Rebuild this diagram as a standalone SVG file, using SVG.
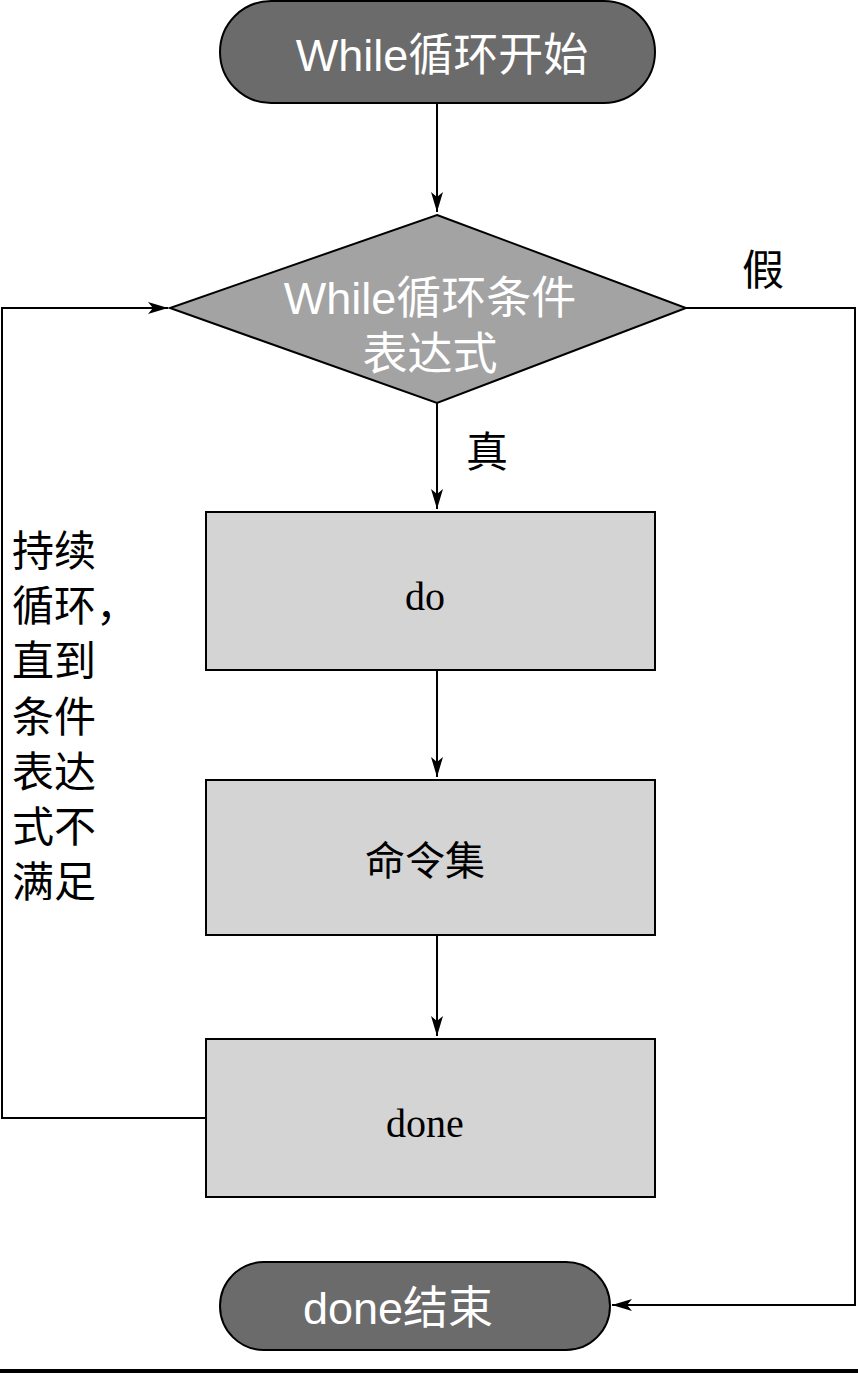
<svg xmlns="http://www.w3.org/2000/svg" width="858" height="1374" viewBox="0 0 858 1374">
<style>
.l{fill:none;stroke:#000;stroke-width:2}
.b{fill:#d4d4d4;stroke:#000;stroke-width:2}
.p{fill:#6b6b6b;stroke:#000;stroke-width:2}
.w{fill:#fff;font-family:"Liberation Sans","Noto Sans CJK SC",sans-serif;font-size:45px;text-anchor:middle}
.s{fill:#000;font-family:"Liberation Serif","Noto Sans CJK SC",serif;font-size:40px;text-anchor:middle}
.c{fill:#000;font-family:"Noto Sans CJK SC",sans-serif;font-size:42px}
</style>
<defs>
<marker id="h" viewBox="0 0 20 12" refX="20" refY="6" markerWidth="20" markerHeight="12" markerUnits="userSpaceOnUse" orient="auto"><path d="M0,0L20,6L0,12L5,6z" fill="#000"/></marker></defs>
<rect width="858" height="1374" fill="#fff"/>
<g id="connectors">
<path class="l" d="M437,103V212" marker-end="url(#h)"/>
<path class="l" d="M437,403V509" marker-end="url(#h)"/>
<path class="l" d="M437,670V777" marker-end="url(#h)"/>
<path class="l" d="M437,935V1036" marker-end="url(#h)"/>
<path class="l" d="M206,1118H2V308H168" marker-end="url(#h)"/>
<path class="l" d="M686,308H855V1305H612" marker-end="url(#h)"/>
</g>
<g id="start"><rect class="p" x="220" y="1" width="435" height="102" rx="51"/><text class="w" x="442" y="71">While循环开始</text></g>
<g id="cond"><polygon points="437,215 686,308 437,403 170,308" fill="#a3a3a3" stroke="#000" stroke-width="2"/><text class="w" x="430" y="314">While循环条件</text><text class="w" x="430" y="370">表达式</text></g>
<g id="do"><rect class="b" x="206" y="512" width="449" height="158"/><text class="s" x="425" y="610">do</text></g>
<g id="cmd"><rect class="b" x="206" y="780" width="449" height="155"/><text class="s" x="425" y="875">命令集</text></g>
<g id="done"><rect class="b" x="206" y="1039" width="449" height="158"/><text class="s" x="425" y="1137">done</text></g>
<g id="end"><rect class="p" x="220" y="1262" width="390" height="88" rx="44"/><text class="w" x="398" y="1324">done结束</text></g>
<g id="labels">
<text class="c" x="742" y="285">假</text>
<text class="c" x="466" y="467">真</text>
<text class="c" x="12" y="566">持续</text>
<text class="c" x="12" y="621">循环，</text>
<text class="c" x="12" y="676">直到</text>
<text class="c" x="12" y="732">条件</text>
<text class="c" x="12" y="787">表达</text>
<text class="c" x="12" y="842">式不</text>
<text class="c" x="12" y="897">满足</text>
</g>
<line x1="0" y1="1371" x2="858" y2="1371" stroke="#000" stroke-width="4"/>
</svg>
